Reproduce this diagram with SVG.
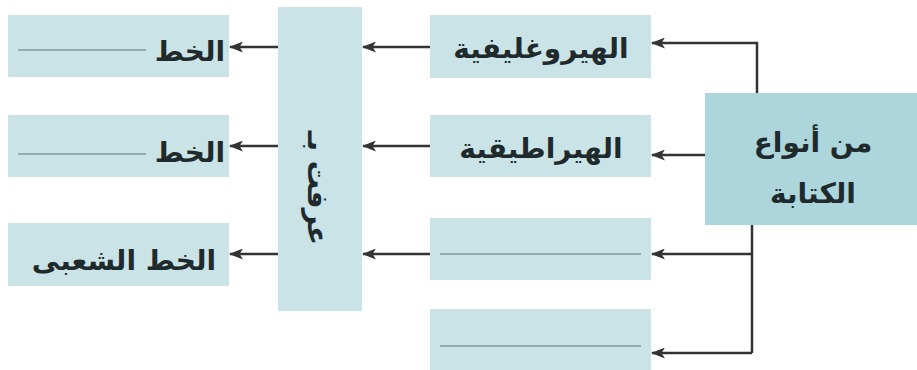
<svg xmlns="http://www.w3.org/2000/svg" width="917" height="370" viewBox="0 0 917 370">
<style>
.box{fill:#c9e3e6}
.big{fill:#acd5dc}
.t{font-family:"DejaVu Sans",sans-serif;font-weight:bold;font-size:28px;fill:#1f2a2c}
.blank{stroke:#7f9a9e;stroke-width:1.5}
.con{stroke:#333;stroke-width:2.5;fill:none}
</style>
<defs>
<marker id="ah" viewBox="0 0 14 11" refX="13" refY="5.5" markerWidth="14" markerHeight="11" markerUnits="userSpaceOnUse" orient="auto">
<path d="M14,5.5 L0,0 L3.5,5.5 L0,11 Z" fill="#333"/>
</marker>
</defs>
<rect width="917" height="370" fill="#fff"/>
<g id="n-main"><rect class="big" x="705" y="93" width="212" height="132"/>
<text class="t" x="813" y="152" text-anchor="middle" direction="rtl" font-size="30">من أنواع</text>
<text class="t" x="813" y="203" text-anchor="middle" direction="rtl" font-size="30">الكتابة</text></g>
<g id="n-hiero"><rect class="box" x="430" y="15" width="221" height="63"/>
<text class="t" x="541" y="58" text-anchor="middle" direction="rtl">الهيروغليفية</text></g>
<g id="n-hiera"><rect class="box" x="430" y="115" width="221" height="62"/>
<text class="t" x="541" y="158" text-anchor="middle" direction="rtl">الهيراطيقية</text></g>
<g id="n-blank3"><rect class="box" x="430" y="218" width="221" height="62"/>
<line class="blank" x1="440" y1="254" x2="641" y2="254"/></g>
<g id="n-blank4"><rect class="box" x="430" y="309" width="221" height="61"/>
<line class="blank" x1="440" y1="346" x2="641" y2="346"/></g>
<g id="n-known"><rect class="box" x="278" y="7" width="84" height="304"/>
<text class="t" transform="translate(308,188) rotate(90)" text-anchor="middle" direction="rtl" font-size="28">عرفت بـ</text></g>
<g id="n-l1"><rect class="box" x="8" y="15" width="221" height="62"/>
<line class="blank" x1="18" y1="50" x2="146" y2="50"/>
<text class="t" x="225" y="61" text-anchor="start" direction="rtl">الخط</text></g>
<g id="n-l2"><rect class="box" x="8" y="115" width="221" height="62"/>
<line class="blank" x1="18" y1="154" x2="146" y2="154"/>
<text class="t" x="225" y="162" text-anchor="start" direction="rtl">الخط</text></g>
<g id="n-l3"><rect class="box" x="8" y="223" width="221" height="63"/>
<text class="t" x="216" y="270" text-anchor="start" direction="rtl" font-size="29">الخط الشعبى</text></g>
<g id="connectors">
<path class="con" d="M757,93 V43 H652" marker-end="url(#ah)"/>
<path class="con" d="M705,155 H652" marker-end="url(#ah)"/>
<path class="con" d="M752,225 V353"/>
<path class="con" d="M752,254 H652" marker-end="url(#ah)"/>
<path class="con" d="M752,353 H652" marker-end="url(#ah)"/>
<path class="con" d="M430,47 H363" marker-end="url(#ah)"/>
<path class="con" d="M430,146 H363" marker-end="url(#ah)"/>
<path class="con" d="M430,254 H363" marker-end="url(#ah)"/>
<path class="con" d="M278,47 H230" marker-end="url(#ah)"/>
<path class="con" d="M278,146 H230" marker-end="url(#ah)"/>
<path class="con" d="M278,254 H230" marker-end="url(#ah)"/>
</g>
</svg>
